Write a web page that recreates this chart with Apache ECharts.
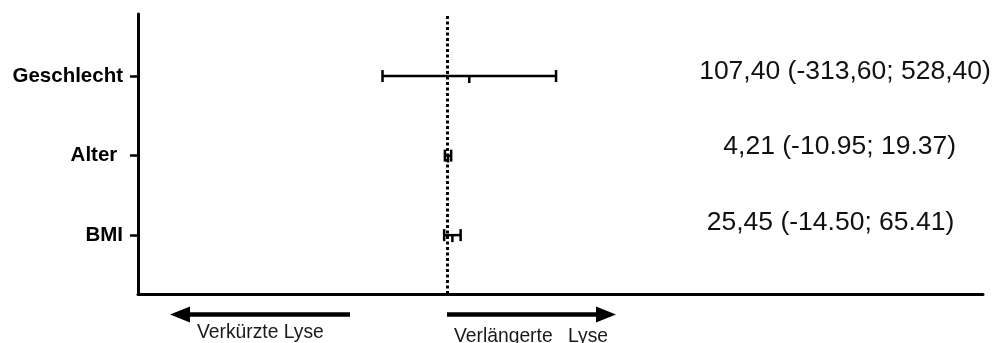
<!DOCTYPE html>
<html>
<head>
<meta charset="utf-8">
<script src="https://cdn.jsdelivr.net/npm/echarts@6/dist/echarts.min.js"></script>
<style>
  html, body { margin: 0; padding: 0; background: #fff; }
  #chart { width: 994px; height: 343px; }
</style>
</head>
<body>
<div id="chart"></div>
<script>
// Forest plot: effect of each factor on lysis duration, point estimate with 95% CI.
// Rows listed bottom to top.
const factors   = ['BMI', 'Alter ', 'Geschlecht'];
const estimates = [25.45, 4.21, 107.40];
const lowerCI   = [-14.50, -10.95, -313.60];
const upperCI   = [65.41, 19.37, 528.40];
// decimal mark used for the interval bounds in each row's note
const ciDecimalMark = ['.', '.', ','];

// Layout of the notes on the right (pixel centre x, vertical shift from the row)
const noteCenterX = [830.5, 839.7, 845];
const noteShiftY  = [-12.6, -9.3, -4.3];

const FONT = 'Arial, "Liberation Sans", Helvetica, sans-serif';

function fmt(v, mark) {
  return v.toFixed(2).replace('.', mark);
}
function noteText(i) {
  return fmt(estimates[i], ',') + ' (' + fmt(lowerCI[i], ciDecimalMark[i]) + '; ' +
         fmt(upperCI[i], ciDecimalMark[i]) + ')';
}

const rows = factors.map((f, i) => [i + 1, lowerCI[i], upperCI[i], estimates[i]]);

const chart = echarts.init(document.getElementById('chart'), null, { renderer: 'canvas' });

const black = '#000';

chart.setOption({
  animation: false,
  backgroundColor: '#fff',
  grid: { left: 138, right: 11, top: 14, bottom: 49, containLabel: false },
  xAxis: {
    type: 'value',
    min: -1500,
    max: 2600,
    axisLine: { show: true, onZero: false, lineStyle: { color: black, width: 3 } },
    axisTick: { show: false },
    axisLabel: { show: false },
    splitLine: { show: false }
  },
  yAxis: {
    type: 'value',
    min: 0.26,
    max: 3.78,
    axisLine: { show: true, onZero: false, lineStyle: { color: black, width: 3 } },
    axisTick: {
      show: true,
      length: 8,
      customValues: [1, 2, 3],
      lineStyle: { color: black, width: 2.5 }
    },
    axisLabel: {
      show: true,
      customValues: [1, 2, 3],
      margin: 15,
      color: black,
      fontFamily: FONT,
      fontWeight: 'bold',
      fontSize: 20.5,
      formatter: v => factors[Math.round(v) - 1] || ''
    },
    splitLine: { show: false }
  },
  series: [
    {
      // confidence intervals with end caps and a tick at the estimate
      type: 'custom',
      data: rows,
      encode: { x: [1, 2, 3], y: 0 },
      clip: false,
      renderItem: function (params, api) {
        const y = api.value(0);
        const lo = api.coord([api.value(1), y]);
        const hi = api.coord([api.value(2), y]);
        const mid = api.coord([api.value(3), y]);
        const st = { stroke: black, lineWidth: 2.5, fill: null };
        const cap = 6;
        return {
          type: 'group',
          children: [
            { type: 'line', shape: { x1: lo[0], y1: lo[1], x2: hi[0], y2: hi[1] }, style: st },
            { type: 'line', shape: { x1: lo[0], y1: lo[1] - cap, x2: lo[0], y2: lo[1] + cap }, style: st },
            { type: 'line', shape: { x1: hi[0], y1: hi[1] - cap, x2: hi[0], y2: hi[1] + cap }, style: st },
            { type: 'line', shape: { x1: mid[0], y1: mid[1], x2: mid[0], y2: mid[1] + 7 }, style: st }
          ]
        };
      },
      markLine: {
        silent: true,
        symbol: ['none', 'none'],
        label: { show: false },
        lineStyle: { color: black, width: 3, type: [3, 2.5] },
        data: [{ xAxis: 0 }]
      },
      z: 3
    },
    {
      // estimate and interval written out beside each row
      type: 'custom',
      data: rows,
      encode: { x: 3, y: 0 },
      clip: false,
      renderItem: function (params, api) {
        const i = params.dataIndex;
        const p = api.coord([0, api.value(0)]);
        return {
          type: 'text',
          style: {
            text: noteText(i),
            x: noteCenterX[i],
            y: p[1] + noteShiftY[i],
            align: 'center',
            verticalAlign: 'middle',
            fill: '#111',
            font: '26.5px ' + FONT
          }
        };
      }
    }
  ],
  graphic: [
    // arrow pointing left: shorter lysis
    { type: 'line', shape: { x1: 186, y1: 314.5, x2: 350, y2: 314.5 },
      style: { stroke: black, lineWidth: 4.5 } },
    { type: 'polygon', shape: { points: [[170, 314.5], [190, 306.5], [190, 322.5]] },
      style: { fill: black } },
    // arrow pointing right: longer lysis
    { type: 'line', shape: { x1: 447, y1: 314.5, x2: 600, y2: 314.5 },
      style: { stroke: black, lineWidth: 4.5 } },
    { type: 'polygon', shape: { points: [[616, 314.5], [596, 306.5], [596, 322.5]] },
      style: { fill: black } },
    { type: 'text', style: { text: 'Verkürzte Lyse', x: 197, y: 332.5, align: 'left',
      verticalAlign: 'middle', fill: '#1a1a1a', font: '19.3px ' + FONT } },
    { type: 'text', style: { text: 'Verlängerte', x: 454, y: 336.5, align: 'left',
      verticalAlign: 'middle', fill: '#1a1a1a', font: '19.3px ' + FONT } },
    { type: 'text', style: { text: 'Lyse', x: 568, y: 336.5, align: 'left',
      verticalAlign: 'middle', fill: '#1a1a1a', font: '19.3px ' + FONT } }
  ]
});
</script>
</body>
</html>
